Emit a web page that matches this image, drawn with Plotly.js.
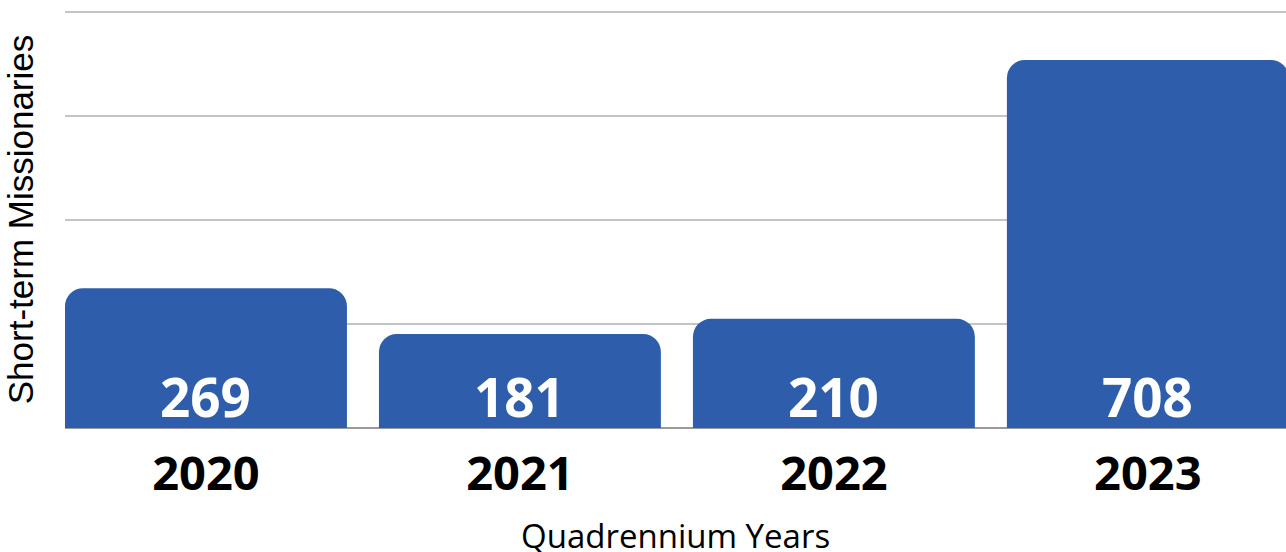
<!DOCTYPE html>
<html>
<head>
<meta charset="utf-8">
<script src="https://cdn.plot.ly/plotly-3.0.1.min.js"></script>
<style>html,body{margin:0;padding:0;background:#fff;}#chart{width:1286px;height:552px;}</style>
</head>
<body>
<div id="chart"></div>
<script>
const years = ["2020", "2021", "2022", "2023"];
const missionaries = [269, 181, 210, 708];
const xTitle = "Quadrennium Years";
const yTitle = "Short-term Missionaries";

const trace = {
  type: "bar",
  x: years,
  y: missionaries,
  marker: {color: "#2e5eab", cornerradius: 18, line: {width: 0}},
  hoverinfo: "none"
};

const valueLabels = years.map((yr, i) => ({
  x: i, y: 0, xref: "x", yref: "y",
  text: String(missionaries[i]),
  showarrow: false,
  yanchor: "bottom",
  yshift: -7,
  font: {family: "Open Sans, sans-serif", size: 53, color: "#ffffff", weight: 700}
}));

const xTitleAnn = {
  x: 0.5, y: -0.2, xref: "paper", yref: "paper",
  xanchor: "center", yanchor: "top",
  text: xTitle, showarrow: false,
  font: {family: "Open Sans, sans-serif", size: 33, color: "#000000"}
};

const layout = {
  width: 1286, height: 552,
  margin: {l: 65, r: 0, t: 11, b: 124},
  paper_bgcolor: "#ffffff", plot_bgcolor: "#ffffff",
  bargap: 0.102,
  showlegend: false,
  annotations: valueLabels.concat([xTitleAnn]),
  xaxis: {
    type: "category",
    range: [-0.449, 3.44],
    showgrid: false,
    showline: false,
    ticks: "",
    ticklabelstandoff: 14,
    tickfont: {family: "Open Sans, sans-serif", size: 47, color: "#000000", weight: 700}
  },
  yaxis: {
    range: [0, 802],
    dtick: 200,
    showticklabels: false,
    showgrid: true,
    gridcolor: "#c4c4c4",
    gridwidth: 1.5,
    zeroline: true,
    zerolinecolor: "#9a9a9a",
    zerolinewidth: 1.5,
    showline: false,
    ticks: "",
    title: {text: yTitle, standoff: 19, font: {family: "Liberation Sans, Arial, sans-serif", size: 35, color: "#000000"}}
  }
};

Plotly.newPlot("chart", [trace], layout, {displayModeBar: false, staticPlot: true});
</script>
</body>
</html>
